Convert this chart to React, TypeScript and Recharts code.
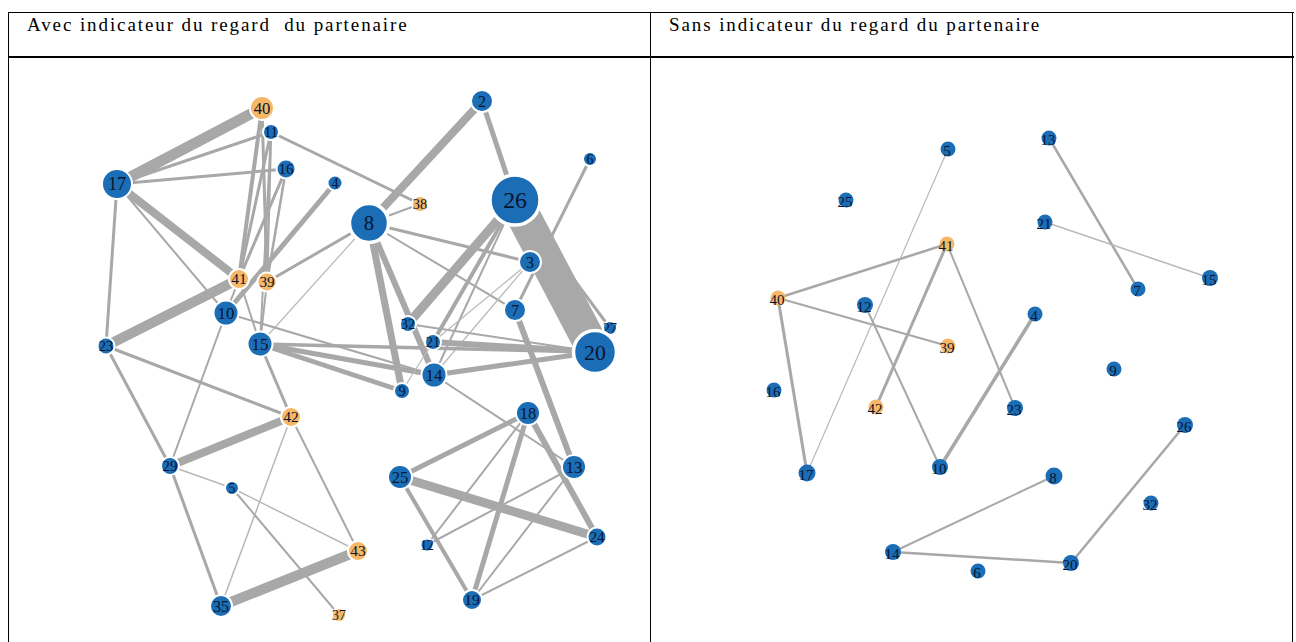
import React from 'react';
import { ScatterChart, Scatter, XAxis, YAxis } from 'recharts';

// Panel titles
const titleLeft = 'Avec indicateur du regard\u00a0 du partenaire';
const titleRight = 'Sans indicateur du regard du partenaire';

// Node layout: id, x, y, size, partner (orange)
type NodeT = { id: string; x: number; y: number; size: number; partner: boolean };

const leftNodes: NodeT[] = [
  { id: '40', x: 262, y: 108, size: 12, partner: true },
  { id: '11', x: 271, y: 132, size: 8, partner: false },
  { id: '17', x: 117, y: 184, size: 15, partner: false },
  { id: '16', x: 286, y: 169, size: 9.5, partner: false },
  { id: '4', x: 335, y: 183, size: 7.5, partner: false },
  { id: '8', x: 369, y: 223, size: 19.5, partner: false },
  { id: '38', x: 420, y: 204, size: 8, partner: true },
  { id: '2', x: 482, y: 101, size: 11, partner: false },
  { id: '26', x: 515, y: 200, size: 25, partner: false },
  { id: '6', x: 590, y: 159, size: 7, partner: false },
  { id: '3', x: 530, y: 262, size: 11, partner: false },
  { id: '7', x: 515, y: 310, size: 11, partner: false },
  { id: '27', x: 610, y: 328, size: 7, partner: false },
  { id: '20', x: 595, y: 352, size: 21.5, partner: false },
  { id: '41', x: 239, y: 279, size: 10, partner: true },
  { id: '39', x: 267, y: 282, size: 9.5, partner: true },
  { id: '10', x: 226, y: 313, size: 12.5, partner: false },
  { id: '15', x: 260, y: 344, size: 12.5, partner: false },
  { id: '23', x: 106, y: 346, size: 8.5, partner: false },
  { id: '32', x: 408, y: 324, size: 8, partner: false },
  { id: '21', x: 433, y: 342, size: 8, partner: false },
  { id: '14', x: 434, y: 375, size: 12.5, partner: false },
  { id: '9', x: 402, y: 391, size: 8, partner: false },
  { id: '42', x: 291, y: 417, size: 10, partner: true },
  { id: '18', x: 528, y: 413, size: 12, partner: false },
  { id: '13', x: 574, y: 467, size: 12, partner: false },
  { id: '29', x: 170, y: 466, size: 9, partner: false },
  { id: '25', x: 400, y: 477, size: 12, partner: false },
  { id: '5', x: 232, y: 488, size: 7, partner: false },
  { id: '43', x: 358, y: 551, size: 10, partner: true },
  { id: '12', x: 427, y: 545, size: 6.5, partner: false },
  { id: '24', x: 597, y: 537, size: 9.5, partner: false },
  { id: '35', x: 221, y: 606, size: 11, partner: false },
  { id: '37', x: 339, y: 615, size: 7, partner: true },
  { id: '19', x: 472, y: 600, size: 10, partner: false },
];

// Edges: from, to, weight
const leftEdges: [string, string, number][] = [
  ['17', '40', 11], ['17', '11', 3], ['17', '16', 3], ['17', '41', 8], ['17', '10', 2],
  ['17', '23', 3], ['23', '41', 10], ['40', '41', 4], ['40', '39', 3], ['11', '41', 3],
  ['11', '39', 2.5], ['11', '15', 2], ['16', '41', 3], ['16', '39', 2.5], ['4', '10', 5],
  ['11', '38', 3], ['8', '39', 3], ['8', '15', 1.2], ['10', '14', 2], ['41', '10', 2],
  ['41', '15', 2], ['39', '15', 2], ['23', '42', 3], ['23', '29', 3], ['10', '29', 2],
  ['15', '42', 3], ['42', '29', 8], ['42', '35', 1.5], ['42', '43', 2], ['29', '35', 3],
  ['29', '5', 1.5], ['5', '43', 1.5], ['5', '37', 2], ['35', '43', 10], ['8', '2', 8],
  ['2', '26', 5], ['8', '38', 2], ['8', '3', 3], ['8', '7', 2], ['8', '9', 7],
  ['8', '14', 6], ['26', '32', 9], ['26', '21', 4], ['26', '14', 2], ['3', '14', 1.2],
  ['26', '20', 34], ['26', '27', 3], ['6', '7', 3], ['7', '13', 6], ['32', '20', 2],
  ['21', '20', 6], ['15', '20', 3.5], ['15', '14', 5], ['15', '9', 5], ['14', '20', 5],
  ['14', '13', 2], ['18', '24', 6], ['18', '25', 5], ['18', '12', 2], ['18', '19', 5],
  ['25', '24', 9], ['25', '19', 4], ['12', '13', 2], ['13', '19', 2], ['24', '19', 2],
  ['9', '21', 1.2], ['3', '21', 1.2],
];

const rightNodes: NodeT[] = [
  { id: '5', x: 948, y: 149, size: 7.5, partner: false },
  { id: '25', x: 846, y: 200, size: 7.5, partner: false },
  { id: '41', x: 947, y: 244, size: 7.5, partner: true },
  { id: '40', x: 778, y: 298, size: 7.5, partner: true },
  { id: '12', x: 865, y: 305, size: 8, partner: false },
  { id: '39', x: 948, y: 346, size: 7.5, partner: true },
  { id: '13', x: 1049, y: 138, size: 7.5, partner: false },
  { id: '21', x: 1045, y: 222, size: 7.5, partner: false },
  { id: '7', x: 1138, y: 289, size: 7.5, partner: false },
  { id: '15', x: 1210, y: 278, size: 8, partner: false },
  { id: '4', x: 1035, y: 314, size: 7.5, partner: false },
  { id: '9', x: 1114, y: 369, size: 7.5, partner: false },
  { id: '16', x: 774, y: 390, size: 7.5, partner: false },
  { id: '42', x: 876, y: 407, size: 7.5, partner: true },
  { id: '17', x: 807, y: 473, size: 8.5, partner: false },
  { id: '10', x: 940, y: 467, size: 8, partner: false },
  { id: '23', x: 1015, y: 408, size: 8, partner: false },
  { id: '26', x: 1185, y: 425, size: 8, partner: false },
  { id: '8', x: 1054, y: 476, size: 8.5, partner: false },
  { id: '32', x: 1151, y: 503, size: 7.5, partner: false },
  { id: '14', x: 893, y: 552, size: 8, partner: false },
  { id: '6', x: 978, y: 571, size: 7.5, partner: false },
  { id: '20', x: 1071, y: 563, size: 8, partner: false },
];

const rightEdges: [string, string, number][] = [
  ['41', '40', 2.5], ['40', '39', 2], ['40', '17', 3], ['5', '17', 1.2], ['12', '10', 2],
  ['41', '42', 3], ['41', '23', 2], ['4', '10', 3.5], ['13', '7', 2.5], ['21', '15', 1.5],
  ['8', '14', 2], ['14', '20', 2.5], ['20', '26', 2.5],
];

const BLUE = '#1b6db6';
const ORANGE = '#f6b766';
const EDGE = '#a8a8a8';
const SERIF = '"Liberation Serif", "DejaVu Serif", serif';

const makeNodeShape = (small: boolean) => (props: any) => {
  const { cx, cy, payload } = props;
  if (cx == null || cy == null) return <g />;
  const r = payload.size;
  const fs = small ? 15 : 10 + r * 0.55;
  return (
    <g>
      <circle
        cx={cx}
        cy={cy}
        r={r}
        fill={payload.partner ? ORANGE : BLUE}
        stroke={small ? 'none' : '#ffffff'}
        strokeWidth={r > 18 ? 3.5 : 2}
      />
      <text
        x={small ? cx - 1 : cx}
        y={small ? cy + 2 : cy}
        dy="0.35em"
        textAnchor="middle"
        fontFamily={SERIF}
        fontSize={fs}
        fill="#081530"
      >
        {payload.id}
      </text>
    </g>
  );
};

const emptyShape = () => <g />;

function Panel({
  nodes,
  edges,
  left,
  top,
  width,
  height,
  small,
}: {
  nodes: NodeT[];
  edges: [string, string, number][];
  left: number;
  top: number;
  width: number;
  height: number;
  small: boolean;
}) {
  const byId: Record<string, NodeT> = {};
  nodes.forEach((n) => (byId[n.id] = n));
  return (
    <div style={{ position: 'absolute', left, top, width, height }}>
      <ScatterChart width={width} height={height} margin={{ top: 0, right: 0, bottom: 0, left: 0 }}>
        <XAxis type="number" dataKey="x" domain={[left, left + width]} hide allowDataOverflow />
        <YAxis type="number" dataKey="y" domain={[top, top + height]} reversed hide allowDataOverflow />
        {edges.map(([a, b, w], i) => (
          <Scatter
            key={'e' + i}
            data={[byId[a], byId[b]]}
            fill={EDGE}
            line={{ stroke: w < 1.6 ? '#b8b8b8' : EDGE, strokeWidth: w }}
            lineType="joint"
            shape={emptyShape}
            isAnimationActive={false}
          />
        ))}
        <Scatter data={nodes} shape={makeNodeShape(small)} isAnimationActive={false} />
      </ScatterChart>
    </div>
  );
}

const line = (style: React.CSSProperties) => (
  <div style={{ position: 'absolute', background: '#000', ...style }} />
);

const titleStyle: React.CSSProperties = {
  position: 'absolute',
  top: 14,
  fontFamily: SERIF,
  fontSize: 19,
  letterSpacing: 1.9,
  whiteSpace: 'pre',
  color: '#000',
};

export default function App() {
  return (
    <div
      style={{
        position: 'absolute',
        left: 0,
        top: 0,
        width: 1296,
        height: 642,
        background: '#fff',
        overflow: 'hidden',
      }}
    >
      {line({ left: 8, top: 12, width: 1286, height: 1 })}
      {line({ left: 8, top: 56, width: 1286, height: 2 })}
      {line({ left: 8, top: 12, width: 1, height: 630 })}
      {line({ left: 650, top: 12, width: 1, height: 630 })}
      {line({ left: 1292, top: 12, width: 1, height: 630 })}
      <div style={{ ...titleStyle, left: 27 }}>{titleLeft}</div>
      <div style={{ ...titleStyle, left: 669 }}>{titleRight}</div>
      <Panel nodes={leftNodes} edges={leftEdges} left={9} top={58} width={641} height={584} small={false} />
      <Panel nodes={rightNodes} edges={rightEdges} left={651} top={58} width={641} height={584} small={true} />
    </div>
  );
}
